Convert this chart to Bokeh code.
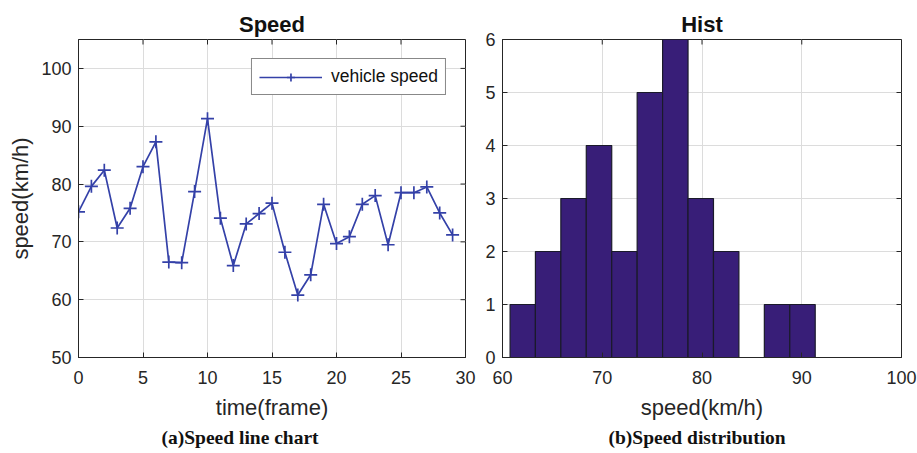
import math
from bokeh.plotting import figure
from bokeh.layouts import row
from bokeh.models import (ColumnDataSource, FixedTicker, Range1d,
                          Title, Legend, LegendItem)
from bokeh.embed import file_html
from bokeh.resources import INLINE

# ---- data ----
frames = list(range(30))
speed = [75.2, 79.6, 82.4, 72.4, 75.8, 83.0, 87.3, 66.5, 66.4, 78.7,
         91.3, 74.1, 65.9, 73.1, 74.9, 76.7, 68.2, 60.8, 64.3, 76.5,
         69.7, 70.9, 76.5, 78.0, 69.5, 78.5, 78.5, 79.5, 75.0, 71.2]

bin_edges = [60.76, 63.30, 65.85, 68.40, 70.95, 73.50, 76.05,
             78.60, 81.15, 83.70, 86.25, 88.80, 91.35]
bin_counts = [1, 2, 3, 4, 2, 5, 6, 3, 2, 0, 1, 1]

line_ticks_x = [0, 5, 10, 15, 20, 25, 30]
line_ticks_y = [50, 60, 70, 80, 90, 100]
hist_ticks_x = [60, 70, 80, 90, 100]
hist_ticks_y = [0, 1, 2, 3, 4, 5, 6]

SANS = "Liberation Sans"
SERIF = "Liberation Serif"
DARK = "#262626"
GRID = "#dcdcdc"
LINE_COLOR = "#3441a8"
BAR_COLOR = "#381e78"


def style(p, xt, yt, xr, yr):
    p.outline_line_color = DARK
    p.outline_line_width = 1
    p.xaxis.ticker = FixedTicker(ticks=xt)
    p.yaxis.ticker = FixedTicker(ticks=yt)
    p.xgrid.ticker = FixedTicker(ticks=xt)
    p.ygrid.ticker = FixedTicker(ticks=yt)
    for ax in (p.xaxis[0], p.yaxis[0]):
        ax.major_tick_in = 5
        ax.major_tick_out = 0
        ax.minor_tick_in = 0
        ax.minor_tick_out = 0
        ax.axis_line_color = DARK
        ax.major_tick_line_color = DARK
        ax.major_label_text_font = SANS
        ax.major_label_text_font_size = "18px"
        ax.major_label_text_color = DARK
        ax.axis_label_text_font = SANS
        ax.axis_label_text_font_size = "22px"
        ax.axis_label_text_font_style = "normal"
        ax.axis_label_text_color = DARK
    p.xaxis.major_label_standoff = 13
    p.yaxis.major_label_standoff = 7
    p.xaxis.axis_label_standoff = 8
    p.yaxis.axis_label_standoff = 5
    p.xgrid.grid_line_color = GRID
    p.ygrid.grid_line_color = GRID
    # box ticks on top and right edges (5 px, pointing inward)
    p.ray(x=xt, y=[yr[1]] * len(xt), length=5, length_units="screen",
          angle=-math.pi / 2, line_color=DARK, line_width=1)
    p.ray(x=[xr[1]] * len(yt), y=yt, length=5, length_units="screen",
          angle=math.pi, line_color=DARK, line_width=1)
    p.title.text_font = SANS
    p.title.text_font_size = "22px"
    p.title.text_font_style = "bold"
    p.title.text_color = "#111111"
    p.title.align = "center"
    p.title.standoff = 6


# ---- left: line chart ----
x1r, y1r = (0, 30), (50, 105)
p1 = figure(width=480, height=453, output_backend="svg", toolbar_location=None,
            x_range=Range1d(*x1r), y_range=Range1d(*y1r), title="Speed",
            min_border_left=78, min_border_right=15, min_border_top=39,
            min_border_bottom=96)
p1.xaxis.axis_label = "time(frame)"
p1.yaxis.axis_label = "speed(km/h)"
style(p1, line_ticks_x, line_ticks_y, x1r, y1r)

src = ColumnDataSource(dict(x=frames, y=speed))
r_line = p1.line("x", "y", source=src, line_color=LINE_COLOR, line_width=1.7)
r_mark = p1.scatter("x", "y", source=src, marker="cross", size=13,
                    line_color=LINE_COLOR, line_width=1.7)
legend = Legend(items=[LegendItem(label="vehicle speed", renderers=[r_line, r_mark])],
                location="top_right")
legend.margin = 19
legend.padding = 7
legend.glyph_width = 63
legend.label_standoff = 9
legend.label_text_font = SANS
legend.label_text_font_size = "17.5px"
legend.label_text_color = "#111111"
legend.border_line_color = "#111111"
legend.border_line_width = 1
legend.background_fill_color = "white"
legend.background_fill_alpha = 1
p1.add_layout(legend, "center")

cap1 = Title(text="(a)Speed line chart", align="left", offset=83,
             text_font=SERIF, text_font_style="bold", text_font_size="19.5px",
             text_color="#111111", standoff=5)
p1.add_layout(cap1, "below")

# ---- right: histogram ----
x2r, y2r = (60, 100), (0, 6)
p2 = figure(width=437, height=453, output_backend="svg", toolbar_location=None,
            x_range=Range1d(*x2r), y_range=Range1d(*y2r), title="Hist",
            min_border_left=22, min_border_right=16, min_border_top=39,
            min_border_bottom=96)
p2.xaxis.axis_label = "speed(km/h)"

hsrc = ColumnDataSource(dict(left=bin_edges[:-1], right=bin_edges[1:],
                             top=bin_counts, bottom=[0] * len(bin_counts)))
p2.quad(left="left", right="right", top="top", bottom="bottom", source=hsrc,
        fill_color=BAR_COLOR, line_color="#1a1a2a", line_width=1.2)
style(p2, hist_ticks_x, hist_ticks_y, x2r, y2r)

cap2 = Title(text="(b)Speed distribution", align="left", offset=106,
             text_font=SERIF, text_font_style="bold", text_font_size="19.5px",
             text_color="#111111", standoff=5)
p2.add_layout(cap2, "below")

layout = row(p1, p2)
open("out.html", "w").write(file_html(layout, INLINE))
